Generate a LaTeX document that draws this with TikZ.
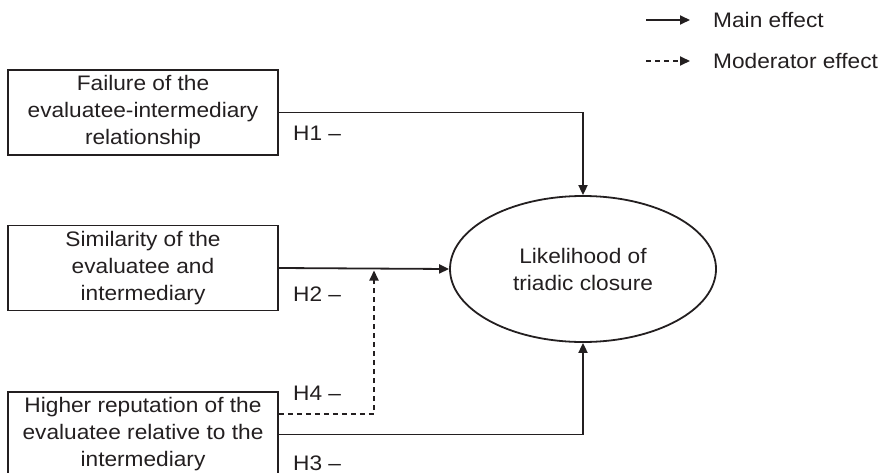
\documentclass[tikz,border=0pt]{standalone}
\usepackage{fontspec}
\setmainfont[FakeStretch=1.08]{Liberation Sans}
\usetikzlibrary{arrows.meta,shapes.geometric}
\definecolor{ink}{HTML}{231F20}
\tikzset{
  lbl/.style={font=\fontsize{21}{27}\selectfont, text=ink, inner sep=0pt},
  factor/.style={draw=ink, line width=1.8pt, minimum width=270pt, minimum height=85pt, align=center, inner sep=0pt, font=\fontsize{21}{27}\selectfont, text=ink},
  outcome/.style={ellipse, draw=ink, line width=1.8pt, minimum width=266pt, minimum height=146pt, inner sep=0pt, align=center, font=\fontsize{21}{27}\selectfont, text=ink},
  mainarrow/.style={draw=ink, line width=1.8pt, -{Triangle[length=10pt,width=9pt]}},
  modarrow/.style={mainarrow, dash pattern=on 5pt off 4pt},
}
\begin{document}
\begin{tikzpicture}[x=1pt,y=-1pt]
\useasboundingbox (0,0) rectangle (882,473);
\clip (0,0) rectangle (882,473);
% legend
\coordinate (l1a) at (646,20);
\coordinate (l1b) at (690,20);
\coordinate (l2a) at (646,61);
\coordinate (l2b) at (690,61);
\draw[mainarrow] (l1a) -- (l1b);
\draw[modarrow] (l2a) -- (l2b);
\node[lbl, anchor=west] (lg1) at (713,20) {Main effect};
\node[lbl, anchor=west] (lg2) at (713,61) {Moderator effect};
% boxes
\node[factor] (b1) at (143,112.5) {Failure of the\\evaluatee-intermediary\\relationship};
\node[factor] (b2) at (143,268) {Similarity of the\\evaluatee and\\intermediary};
\node[factor] (b3) at (143,434.5) {Higher reputation of the\\evaluatee relative to the\\intermediary};
% outcome
\node[outcome] (y) at (583,269) {Likelihood of\\triadic closure};
% connectors
\coordinate (m) at (374,270.5);
\draw[mainarrow] (b1.east) -| (y.north);
\draw[mainarrow] (b2.east) -- (y.west);
\draw[mainarrow] (b3.east) -| (y.south);
\draw[modarrow] ([yshift=20.5pt]b3.east) -| (m);
% labels
\node[lbl, anchor=west] (h1) at (293,133) {H1 –};
\node[lbl, anchor=west] (h2) at (293,294) {H2 –};
\node[lbl, anchor=west] (h4) at (293,393) {H4 –};
\node[lbl, anchor=west] (h3) at (293,463) {H3 –};
\end{tikzpicture}
\end{document}
